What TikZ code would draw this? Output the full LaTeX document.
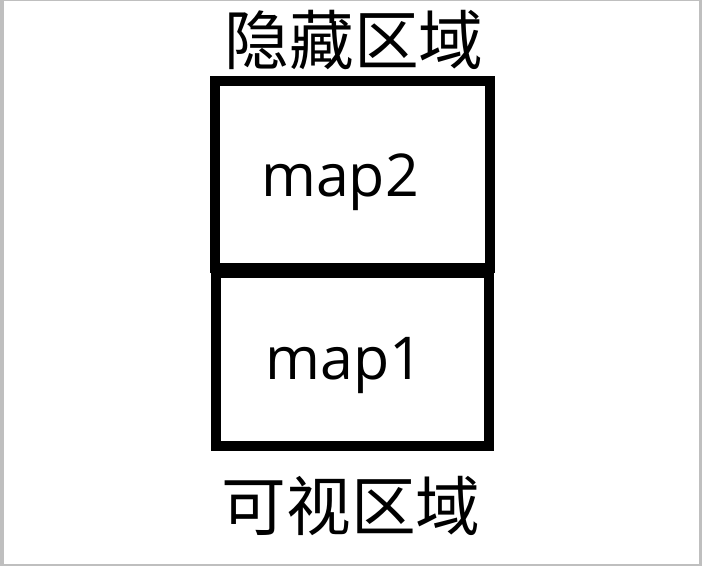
\documentclass[tikz,border=0pt]{standalone}
\usepackage{fontspec}
\setmainfont{Open Sans}
\newfontfamily\cjk{Noto Sans CJK SC}
\usetikzlibrary{shapes,positioning}

\begin{document}
\begin{tikzpicture}[area box/.style={rectangle, draw, line width=0.25cm, inner sep=0pt},
                    map text/.style={anchor=base, inner sep=0pt, font=\fontsize{42}{50}\selectfont},
                    area label/.style={inner sep=0pt, font=\cjk\fontsize{46}{52}\selectfont}]
	% Frame
	\fill[black!25] (0,0) rectangle (17.55,14.15);
	\fill[white] (0.1,0.0375) rectangle (17.475,14.125);
	
	% Regions
	\node[area box, minimum width=6.875cm, minimum height=4.675cm] (hidden) at (8.8125,9.7875) {};
	\node[area box, minimum width=6.825cm, minimum height=4.325cm] (visible) at (8.8125,5.1625) {};
	
	% Maps
	\node[map text] (map2) at (8.5,9.225) {map2};
	\node[map text] (map1) at (8.62,4.65) {map1};
	
	% Labels
	\node[area label] (hiddenlabel) at (8.85,13.15) {隐藏区域};
	\node[area label] (visiblelabel) at (8.775,1.5) {可视区域};
\end{tikzpicture}
\end{document}
